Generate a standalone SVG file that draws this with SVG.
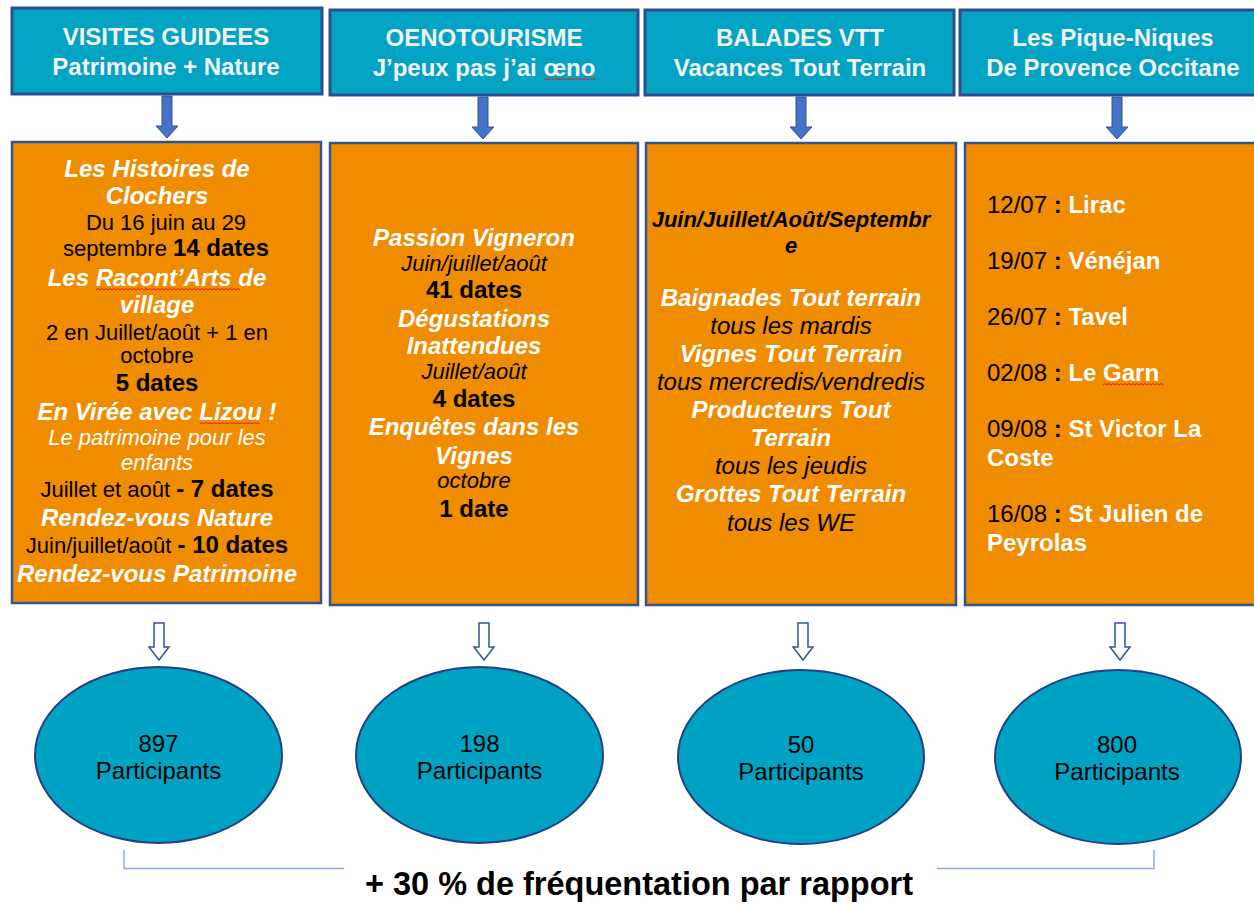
<svg xmlns="http://www.w3.org/2000/svg" width="1254" height="905" viewBox="0 0 1254 905">
<style>
text{font-family:"Liberation Sans",Arial,sans-serif;}
.hdr{fill:#03A3C4;stroke:#2E4E8F;stroke-width:3;}
.htx{fill:#F2F2F2;font-weight:bold;font-size:24px;text-anchor:middle;}
.box{fill:#F08C00;stroke:#2F5597;stroke-width:2.5;}
.ell{fill:#00A2C3;stroke:#24407E;stroke-width:2;}
.c{text-anchor:middle;}
.wt{fill:#FFFFFF;font-weight:bold;font-style:italic;font-size:24px;}
.wi{fill:#FFFFFF;font-style:italic;font-size:22px;}
.r{fill:#000;font-size:22px;}
.r24{fill:#000;font-size:24px;}
.b{fill:#000;font-weight:bold;font-size:24px;}
.bi{fill:#000;font-weight:bold;font-style:italic;font-size:22px;}
.i{fill:#000;font-style:italic;font-size:22px;}
.i24{fill:#000;font-style:italic;font-size:24px;}
.wb{fill:#FFFFFF;font-weight:bold;}
.et{fill:#000;font-size:24px;text-anchor:middle;}
.sarrow{fill:#4472C4;stroke:#2F5597;stroke-width:1;}
.harrow{fill:#FFFFFF;stroke:#2F5597;stroke-width:1.5;}
.brk{fill:none;stroke:#8FAADC;stroke-width:1.5;}
.sq{fill:none;stroke:#E02020;stroke-width:1;}
</style>

<g id="header-visites">
<rect class="hdr" x="12" y="8" width="310" height="86"/>
<text class="htx" x="166" y="45">VISITES GUIDEES</text>
<text class="htx" x="166" y="75">Patrimoine + Nature</text>
</g>
<g id="header-oeno">
<rect class="hdr" x="330" y="10" width="308" height="85"/>
<text class="htx" x="484" y="46">OENOTOURISME</text>
<text class="htx" x="484" y="76">J’peux pas j’ai œno</text>
<path class="sq" d="M544,80 l2,-1.5 l2,1.5 l2,-1.5 l2,1.5 l2,-1.5 l2,1.5 l2,-1.5 l2,1.5 l2,-1.5 l2,1.5 l2,-1.5 l2,1.5 l2,-1.5 l2,1.5 l2,-1.5 l2,1.5 l2,-1.5 l2,1.5 l2,-1.5 l2,1.5 l2,-1.5 l2,1.5 l2,-1.5 l2,1.5 l2,-1.5 l2,1.5"/>
</g>
<g id="header-vtt">
<rect class="hdr" x="645" y="10" width="309" height="85"/>
<text class="htx" x="800" y="46">BALADES VTT</text>
<text class="htx" x="800" y="76">Vacances Tout Terrain</text>
</g>
<g id="header-piquenique">
<rect class="hdr" x="960" y="10" width="300" height="85"/>
<text class="htx" x="1113" y="46">Les Pique-Niques</text>
<text class="htx" x="1113" y="76">De Provence Occitane</text>
</g>

<g id="box-visites">
<rect class="box" x="12" y="142" width="309" height="461"/>
<text class="wt c" x="157" y="177">Les Histoires de</text>
<text class="wt c" x="157" y="204">Clochers</text>
<text class="r c" x="166" y="230">Du 16 juin au 29</text>
<text class="c" x="166" y="256"><tspan class="r">septembre </tspan><tspan class="b">14 dates</tspan></text>
<text class="wt c" x="157" y="286">Les Racont’Arts de</text>
<path class="sq" d="M96,290 l2,-1.5 l2,1.5 l2,-1.5 l2,1.5 l2,-1.5 l2,1.5 l2,-1.5 l2,1.5 l2,-1.5 l2,1.5 l2,-1.5 l2,1.5 l2,-1.5 l2,1.5 l2,-1.5 l2,1.5 l2,-1.5 l2,1.5 l2,-1.5 l2,1.5 l2,-1.5 l2,1.5 l2,-1.5 l2,1.5 l2,-1.5 l2,1.5 l2,-1.5 l2,1.5 l2,-1.5 l2,1.5 l2,-1.5 l2,1.5 l2,-1.5 l2,1.5 l2,-1.5 l2,1.5 l2,-1.5 l2,1.5 l2,-1.5 l2,1.5 l2,-1.5 l2,1.5 l2,-1.5 l2,1.5 l2,-1.5 l2,1.5 l2,-1.5 l2,1.5 l2,-1.5 l2,1.5 l2,-1.5 l2,1.5 l2,-1.5 l2,1.5 l2,-1.5 l2,1.5 l2,-1.5 l2,1.5 l2,-1.5 l2,1.5 l2,-1.5 l2,1.5 l2,-1.5 l2,1.5 l2,-1.5 l2,1.5 l2,-1.5 l2,1.5 l2,-1.5 l2,1.5 l2,-1.5 l2,1.5"/>
<text class="wt c" x="157" y="313">village</text>
<text class="r c" x="157" y="340">2 en Juillet/août + 1 en</text>
<text class="r c" x="157" y="363">octobre</text>
<text class="b c" x="157" y="391">5 dates</text>
<text class="wt c" x="157" y="420">En Virée avec Lizou !</text>
<path class="sq" d="M200,424 l2,-1.5 l2,1.5 l2,-1.5 l2,1.5 l2,-1.5 l2,1.5 l2,-1.5 l2,1.5 l2,-1.5 l2,1.5 l2,-1.5 l2,1.5 l2,-1.5 l2,1.5 l2,-1.5 l2,1.5 l2,-1.5 l2,1.5 l2,-1.5 l2,1.5 l2,-1.5 l2,1.5 l2,-1.5 l2,1.5 l2,-1.5 l2,1.5 l2,-1.5 l2,1.5 l2,-1.5 l2,1.5"/>
<text class="wi c" x="157" y="445">Le patrimoine pour les</text>
<text class="wi c" x="157" y="470">enfants</text>
<text class="c" x="157" y="497"><tspan class="r">Juillet et août </tspan><tspan class="b">- 7 dates</tspan></text>
<text class="wt c" x="157" y="526">Rendez-vous Nature</text>
<text class="c" x="157" y="553"><tspan class="r">Juin/juillet/août </tspan><tspan class="b">- 10 dates</tspan></text>
<text class="wt c" x="157" y="582">Rendez-vous Patrimoine</text>
</g>

<g id="box-oeno">
<rect class="box" x="330" y="143" width="308" height="462"/>
<text class="wt c" x="474" y="246">Passion Vigneron</text>
<text class="i c" x="474" y="271">Juin/juillet/août</text>
<text class="b c" x="474" y="298">41 dates</text>
<text class="wt c" x="474" y="327">Dégustations</text>
<text class="wt c" x="474" y="354">Inattendues</text>
<text class="i c" x="474" y="379">Juillet/août</text>
<text class="b c" x="474" y="407">4 dates</text>
<text class="wt c" x="474" y="435">Enquêtes dans les</text>
<text class="wt c" x="474" y="464">Vignes</text>
<text class="i c" x="474" y="488">octobre</text>
<text class="b c" x="474" y="517">1 date</text>
</g>

<g id="box-vtt">
<rect class="box" x="646" y="143" width="310" height="462"/>
<text class="bi c" x="791" y="227">Juin/Juillet/Août/Septembr</text>
<text class="bi c" x="791" y="253">e</text>
<text class="wt c" x="791" y="306">Baignades Tout terrain</text>
<text class="i24 c" x="791" y="334">tous les mardis</text>
<text class="wt c" x="791" y="362">Vignes Tout Terrain</text>
<text class="i24 c" x="791" y="390">tous mercredis/vendredis</text>
<text class="wt c" x="791" y="418">Producteurs Tout</text>
<text class="wt c" x="791" y="446">Terrain</text>
<text class="i24 c" x="791" y="474">tous les jeudis</text>
<text class="wt c" x="791" y="502">Grottes Tout Terrain</text>
<text class="i24 c" x="791" y="531">tous les WE</text>
</g>

<g id="box-piquenique" font-size="24">
<rect class="box" x="965" y="143" width="300" height="462"/>
<text x="987" y="213"><tspan class="r24">12/07 </tspan><tspan class="b">: </tspan><tspan class="wb">Lirac</tspan></text>
<text x="987" y="269"><tspan class="r24">19/07 </tspan><tspan class="b">: </tspan><tspan class="wb">Vénéjan</tspan></text>
<text x="987" y="325"><tspan class="r24">26/07 </tspan><tspan class="b">: </tspan><tspan class="wb">Tavel</tspan></text>
<text x="987" y="381"><tspan class="r24">02/08 </tspan><tspan class="b">: </tspan><tspan class="wb">Le Garn</tspan></text>
<path class="sq" d="M1103,385 l2,-1.5 l2,1.5 l2,-1.5 l2,1.5 l2,-1.5 l2,1.5 l2,-1.5 l2,1.5 l2,-1.5 l2,1.5 l2,-1.5 l2,1.5 l2,-1.5 l2,1.5 l2,-1.5 l2,1.5 l2,-1.5 l2,1.5 l2,-1.5 l2,1.5 l2,-1.5 l2,1.5 l2,-1.5 l2,1.5 l2,-1.5 l2,1.5 l2,-1.5 l2,1.5 l2,-1.5 l2,1.5"/>
<text x="987" y="437"><tspan class="r24">09/08 </tspan><tspan class="b">: </tspan><tspan class="wb">St Victor La</tspan></text>
<text x="987" y="466" class="wb">Coste</text>
<text x="987" y="522"><tspan class="r24">16/08 </tspan><tspan class="b">: </tspan><tspan class="wb">St Julien de</tspan></text>
<text x="987" y="551" class="wb">Peyrolas</text>
</g>

<g id="result-visites">
<ellipse class="ell" cx="158.5" cy="755" rx="123.5" ry="88"/>
<text class="et" x="158.5" y="752">897</text>
<text class="et" x="158.5" y="779">Participants</text>
</g>
<g id="result-oeno">
<ellipse class="ell" cx="479.5" cy="755" rx="123.5" ry="88"/>
<text class="et" x="479.5" y="752">198</text>
<text class="et" x="479.5" y="779">Participants</text>
</g>
<g id="result-vtt">
<ellipse class="ell" cx="801" cy="757" rx="123" ry="87"/>
<text class="et" x="801" y="753">50</text>
<text class="et" x="801" y="780">Participants</text>
</g>
<g id="result-piquenique">
<ellipse class="ell" cx="1118" cy="757" rx="123" ry="87"/>
<text class="et" x="1117" y="753">800</text>
<text class="et" x="1117" y="780">Participants</text>
</g>

<g id="connectors">
<path class="sarrow" d="M162,96 h10 v30 h6 l-11,12 l-11,-12 h6 z"/>
<path class="sarrow" d="M478,97 h10 v30 h6 l-11,12 l-11,-12 h6 z"/>
<path class="sarrow" d="M796,97 h10 v30 h6 l-11,12 l-11,-12 h6 z"/>
<path class="sarrow" d="M1112,97 h10 v30 h6 l-11,12 l-11,-12 h6 z"/>
<path class="harrow" d="M154,623 h10 v24 h5 l-10,13 l-10,-13 h5 z"/>
<path class="harrow" d="M479,623 h10 v24 h5 l-10,13 l-10,-13 h5 z"/>
<path class="harrow" d="M798,623 h10 v24 h5 l-10,13 l-10,-13 h5 z"/>
<path class="harrow" d="M1115,623 h10 v24 h5 l-10,13 l-10,-13 h5 z"/>
<path class="brk" d="M124,850 V868.5 H344"/>
<path class="brk" d="M937,868.5 H1154 V850"/>
</g>

<g id="summary">
<text x="639" y="895" text-anchor="middle" font-weight="bold" font-size="32.5" fill="#000">+ 30 % de fréquentation par rapport</text>
</g>
</svg>
